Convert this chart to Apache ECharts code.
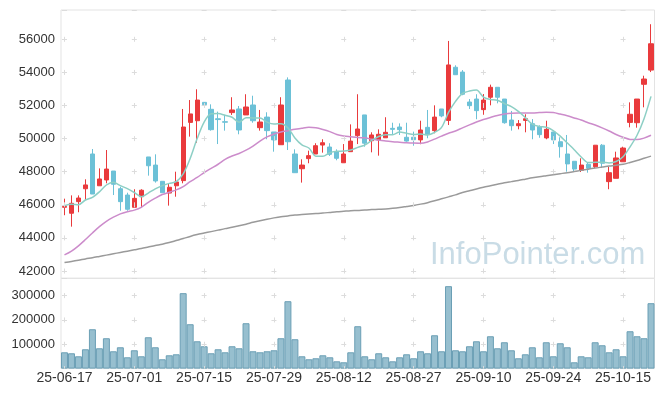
<!DOCTYPE html>
<html><head><meta charset="utf-8">
<script src="https://cdn.jsdelivr.net/npm/echarts@6/dist/echarts.min.js"></script>
<style>html,body{margin:0;padding:0;background:#fff}#c{width:665px;height:396px}</style>
</head><body><div id="c"></div>
<script>
const dates = ['25-06-17','25-06-18','25-06-19','25-06-20','25-06-23','25-06-24','25-06-25','25-06-26','25-06-27','25-06-30',
'25-07-01','25-07-02','25-07-03','25-07-04','25-07-07','25-07-08','25-07-09','25-07-10','25-07-11','25-07-14',
'25-07-15','25-07-16','25-07-17','25-07-18','25-07-21','25-07-22','25-07-23','25-07-24','25-07-25','25-07-28',
'25-07-29','25-07-30','25-07-31','25-08-01','25-08-04','25-08-05','25-08-06','25-08-07','25-08-08','25-08-11',
'25-08-12','25-08-13','25-08-14','25-08-18','25-08-19','25-08-20','25-08-21','25-08-22','25-08-25','25-08-26',
'25-08-27','25-08-28','25-08-29','25-09-01','25-09-02','25-09-03','25-09-04','25-09-05','25-09-08','25-09-09',
'25-09-10','25-09-11','25-09-12','25-09-15','25-09-16','25-09-17','25-09-18','25-09-19','25-09-22','25-09-23',
'25-09-24','25-09-25','25-09-26','25-09-29','25-09-30','25-10-01','25-10-02','25-10-10','25-10-13','25-10-14',
'25-10-15','25-10-16','25-10-17','25-10-20','25-10-21'];
const xTickLabels = ['25-06-17','25-07-01','25-07-15','25-07-29','25-08-12','25-08-27','25-09-10','25-09-24','25-10-15'];

const openV = [45850,45490,46190,46970,49070,47150,47500,48040,46970,46590,
45850,46490,48890,48400,47420,46710,47150,47460,50980,51080,
52190,51770,51200,51020,51570,51790,51430,52030,50660,51300,
50400,49630,53540,49070,48180,48790,49070,49610,49490,49210,
48540,49210,50180,51430,49870,49920,50050,50620,50700,50080,
50080,49920,50680,50480,51790,51100,54310,54020,52210,52390,
51750,52500,53100,52390,51120,50780,51100,50900,50720,50040,
50400,49810,49070,48630,48080,48450,48300,49600,47400,47600,
48600,50980,50960,53280,54140];
const closeV = [45900,46090,46410,47200,46650,47560,48160,47240,46190,45730,
46390,46880,48360,47440,46730,47060,47380,50700,51490,52330,
52050,50540,51150,50990,51730,50520,51910,51080,51000,50480,
49920,52030,49810,47940,48400,48970,49570,49750,49050,48810,
49070,49850,50580,49720,50220,50260,50380,50560,50540,49850,
49930,50520,50260,51300,51370,54450,53860,52680,51990,51690,
52330,53100,52500,50960,50780,50900,51200,50520,50240,50560,
49920,49510,48470,48160,48400,48210,49600,48510,47940,48830,
49430,51470,52390,53600,55730];
const lowV = [45370,44680,45550,46290,46650,47150,47300,46590,45640,45640,
45850,45830,47760,47340,46730,45950,46490,47300,50120,49750,
52050,50480,49670,50480,51430,50260,51430,50960,50480,49960,
49210,49630,49310,47940,47340,48510,49070,49150,48950,48690,
48540,49210,49670,49510,49170,48970,50050,50240,50220,49810,
49570,49660,50020,50320,51290,50820,53860,52620,51790,51170,
51440,52010,52130,50900,50480,50560,50380,49960,50050,49960,
49670,48850,48000,48000,47980,47940,48210,48240,46940,47600,
48600,50680,50660,51890,54020];
const highV = [46370,46570,46570,47540,49370,48200,49310,48040,47090,46730,
46940,46940,48890,49050,47420,47300,48000,51790,52330,52980,
52190,52070,51630,51430,52500,51970,52680,52590,51730,51590,
50400,52500,53700,49350,48750,49270,49720,49960,49720,49350,
49670,50860,52680,51430,50380,50560,51290,50960,50920,50960,
50420,51080,51730,52010,51790,55900,54430,54140,52390,52680,
52690,53260,53100,52390,51670,51120,51470,51180,50800,51080,
50400,50080,50220,48630,48810,48540,49600,49670,48300,49210,
49510,52190,52390,53800,56910];
const volume = [67000,63000,50600,79400,161700,83500,124700,71200,87600,46500,
75300,50600,128800,87600,38300,54700,58800,309900,182300,112300,
91800,63000,79400,67000,91800,83500,186400,71200,67000,71200,
75300,124700,276900,120600,50600,38300,42400,54700,46500,30000,
25900,67000,174100,50600,38300,63000,46500,30000,46500,58800,
42400,71200,63000,137000,71200,338700,75300,71200,91800,112300,
71200,132900,83500,108200,75300,42400,58800,87600,46500,108200,
50600,104100,87600,25900,50600,46500,108200,95900,67000,79400,
50600,153500,132900,124700,268700];
const ma5 = [45950,46030,46000,46290,46450,46782,47196,47362,47160,46976,
46742,46486,46710,46960,47160,47294,47394,47862,48800,50000,
51000,51500,51512,51412,51292,50986,51260,51246,51248,50998,
50878,50902,50648,50036,49620,49430,48938,48926,49148,49230,
49250,49306,49472,49606,49888,50126,50232,50228,50392,50318,
50252,50280,50220,50372,50676,51580,52248,52732,52870,52934,
52510,52358,52322,52116,51934,51648,51268,50872,50728,50684,
50488,50150,49740,49324,48892,48550,48568,48576,48532,48618,
48900,49500,50200,51200,52550];
const ma20 = [42970,43200,43520,43900,44300,44680,45000,45250,45450,45580,
45680,45850,46150,46400,46620,46760,46900,47100,47400,47650,
47950,48200,48450,48750,48950,49100,49300,49550,49850,50100,
50280,50400,50480,50560,50630,50680,50650,50550,50420,50250,
50160,50110,50060,50050,49960,49910,49850,49810,49780,49750,
49730,49720,49800,49970,50150,50320,50460,50650,50830,51000,
51150,51280,51400,51480,51530,51540,51540,51550,51570,51590,
51570,51480,51380,51250,51120,50960,50820,50650,50460,50250,
50080,49950,49940,50030,50200];
const ma60 = [42520,42580,42650,42730,42800,42880,42960,43040,43120,43200,
43280,43360,43450,43540,43620,43720,43840,43960,44090,44200,
44290,44380,44470,44560,44640,44730,44830,44940,45040,45130,
45210,45280,45330,45380,45410,45440,45470,45500,45540,45580,
45610,45640,45660,45690,45710,45730,45750,45790,45840,45900,
45960,46040,46130,46240,46360,46480,46600,46740,46850,46960,
47060,47150,47240,47330,47400,47470,47550,47630,47700,47760,
47820,47880,47940,48010,48080,48150,48220,48280,48340,48390,
48450,48560,48680,48810,48940];

const candleData = dates.map((d, i) => [openV[i], closeV[i], lowV[i], highV[i]]);
const crossColor = '#dcdcdc';
const borderColor = '#e3e3e3';
const labelFont = 'Liberation Sans, Arial, sans-serif';
const plain = v => String(v);

const chart = echarts.init(document.getElementById('c'), null, {renderer: 'canvas'});
chart.setOption({
  animation: false,
  backgroundColor: '#ffffff',
  graphic: [{
    type: 'text', z: 0, silent: true,
    style: {text: 'InfoPointer.com', x: 430, y: 255, fill: '#c9dce6',
      font: '31px "Liberation Sans", Arial, sans-serif', verticalAlign: 'middle', textVerticalAlign: 'middle'}
  }],
  grid: [
    {left: 61, top: 10, width: 593.5, height: 268.3, show: true, borderColor: borderColor, borderWidth: 1, backgroundColor: 'transparent'},
    {left: 61, top: 278.3, width: 593.5, height: 90.3, show: true, borderColor: borderColor, borderWidth: 1, backgroundColor: 'transparent'}
  ],
  xAxis: [
    {type: 'category', gridIndex: 0, data: dates, boundaryGap: true,
      axisLine: {show: false}, axisTick: {show: false}, axisLabel: {show: false}, splitLine: {show: false}},
    {type: 'category', gridIndex: 1, data: dates, boundaryGap: true,
      axisLine: {show: false}, axisTick: {show: false}, splitLine: {show: false},
      axisLabel: {interval: (idx, val) => xTickLabels.indexOf(val) >= 0, fontSize: 14, color: '#333', margin: 3, fontFamily: labelFont}}
  ],
  yAxis: [
    {type: 'value', gridIndex: 0, min: 41559, max: 57770, splitNumber: 8, scale: true,
      axisLine: {show: false}, axisTick: {show: false},
      axisLabel: {formatter: plain, showMinLabel: false, showMaxLabel: false, fontSize: 13, color: '#333', margin: 6, fontFamily: labelFont},
      splitLine: {show: true, lineStyle: {color: crossColor, width: 1, type: [5, 64.82], dashOffset: 68.82}}},
    {type: 'value', gridIndex: 1, min: 0, max: 371000, splitNumber: 4,
      axisLine: {show: false}, axisTick: {show: false},
      axisLabel: {formatter: plain, showMinLabel: false, showMaxLabel: false, fontSize: 13, color: '#333', margin: 6, fontFamily: labelFont},
      splitLine: {show: true, lineStyle: {color: crossColor, width: 1, type: [5, 64.82], dashOffset: 68.82}}}
  ],
  series: [
    {type: 'candlestick', xAxisIndex: 0, yAxisIndex: 0, data: candleData, barWidth: '68%',
      itemStyle: {color: '#e93a3c', color0: '#6cc1d7', borderColor: '#e93a3c', borderColor0: '#6cc1d7', borderWidth: 1},
      markLine: {silent: true, symbol: ['none', 'none'], label: {show: false}, animation: false,
        emphasis: {disabled: true},
        lineStyle: {color: crossColor, width: 1, type: [5, 28.1], dashOffset: 28.3},
        data: xTickLabels.map(d => ({xAxis: d}))}},
    {type: 'line', xAxisIndex: 0, yAxisIndex: 0, data: ma60, showSymbol: false, smooth: 0.3,
      lineStyle: {color: '#9a9a9a', width: 1.5}, z: 3},
    {type: 'line', xAxisIndex: 0, yAxisIndex: 0, data: ma20, showSymbol: false, smooth: 0.3,
      lineStyle: {color: '#cc8ccb', width: 1.5}, z: 3},
    {type: 'line', xAxisIndex: 0, yAxisIndex: 0, data: ma5, showSymbol: false, smooth: 0.3,
      lineStyle: {color: '#8dcfc5', width: 1.5}, z: 3},
    {type: 'bar', xAxisIndex: 1, yAxisIndex: 1, data: volume, barCategoryGap: '0%',
      itemStyle: {color: '#97bfcf', borderColor: '#6b9fb5', borderWidth: 1},
      markLine: {silent: true, symbol: ['none', 'none'], label: {show: false}, animation: false,
        emphasis: {disabled: true},
        lineStyle: {color: crossColor, width: 1, type: [5, 19.33], dashOffset: 2.5},
        data: xTickLabels.map(d => ({xAxis: d}))}}
  ]
});
</script>
</body></html>
